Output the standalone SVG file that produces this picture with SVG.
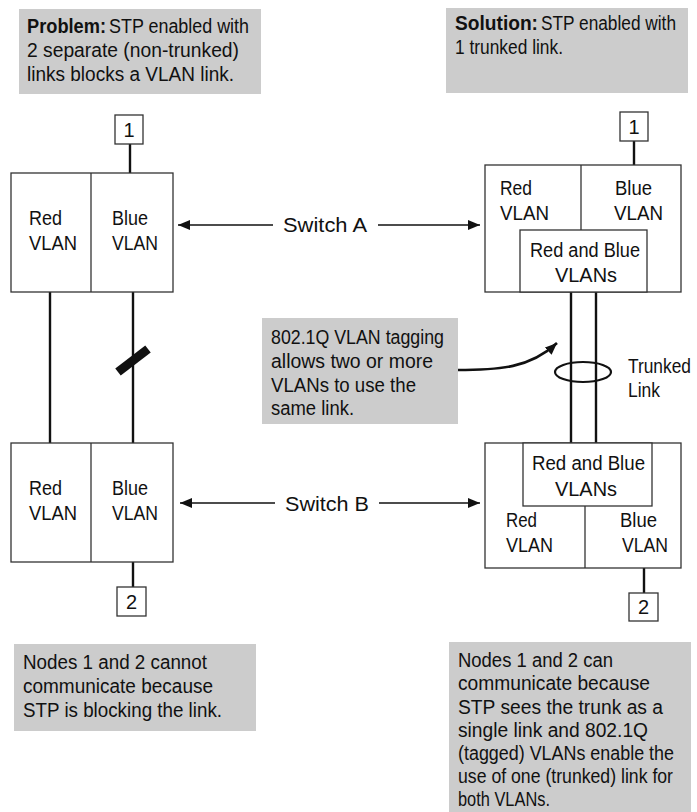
<svg xmlns="http://www.w3.org/2000/svg" width="697" height="812" viewBox="0 0 697 812">
<style>
text{font-family:"Liberation Sans",Arial,sans-serif;font-size:20px;fill:#111}
.b{font-weight:bold}
.note{fill:#cccccc}
.box{fill:#fff;stroke:#333;stroke-width:1.3}
.link{stroke:#111;stroke-width:2.4;fill:none}
.arr{stroke:#111;stroke-width:1.4;fill:none}
</style>
<defs>
<marker id="ah" viewBox="0 0 12 10" refX="12" refY="5" markerWidth="12" markerHeight="10" markerUnits="userSpaceOnUse" orient="auto">
<path d="M0,0 L12,5 L0,10 z" fill="#111"/>
</marker>
</defs>

<g id="note-problem">
<rect class="note" x="19" y="9" width="242" height="85"/>
<text class="b" x="27" y="33" textLength="79" lengthAdjust="spacingAndGlyphs">Problem:</text>
<text x="109" y="33" textLength="140" lengthAdjust="spacingAndGlyphs">STP enabled with</text>
<text x="27" y="57" textLength="212" lengthAdjust="spacingAndGlyphs">2 separate (non-trunked)</text>
<text x="27" y="81" textLength="207" lengthAdjust="spacingAndGlyphs">links blocks a VLAN link.</text>
</g>

<g id="note-solution">
<rect class="note" x="446" y="8" width="242" height="85"/>
<text class="b" x="455" y="30" textLength="83" lengthAdjust="spacingAndGlyphs">Solution:</text>
<text x="541" y="30" textLength="135" lengthAdjust="spacingAndGlyphs">STP enabled with</text>
<text x="455" y="54" textLength="108" lengthAdjust="spacingAndGlyphs">1 trunked link.</text>
</g>

<g id="connectors">
<line class="link" x1="130" y1="144" x2="130" y2="173"/>
<line class="link" x1="50" y1="292" x2="50" y2="443"/>
<line class="link" x1="133" y1="292" x2="133" y2="443"/>
<line class="link" x1="133" y1="562" x2="133" y2="587"/>
<line x1="118" y1="372" x2="148" y2="349" stroke="#111" stroke-width="9"/>
<line class="link" x1="634" y1="141" x2="634" y2="165"/>
<line class="link" x1="571" y1="292" x2="571" y2="443"/>
<line class="link" x1="596" y1="292" x2="596" y2="443"/>
<line class="link" x1="644" y1="568" x2="644" y2="593"/>
<ellipse cx="583" cy="372" rx="28" ry="10" fill="none" stroke="#111" stroke-width="2.2"/>
<line class="arr" x1="273" y1="225" x2="178" y2="225" marker-end="url(#ah)"/>
<line class="arr" x1="378" y1="225" x2="480" y2="225" marker-end="url(#ah)"/>
<line class="arr" x1="275" y1="503" x2="180" y2="503" marker-end="url(#ah)"/>
<line class="arr" x1="379" y1="503" x2="480" y2="503" marker-end="url(#ah)"/>
<path d="M457,370 C500,370 530,368 557,343" stroke="#111" stroke-width="2.6" fill="none" marker-end="url(#ah)"/>
</g>

<g id="label-switch-a">
<text x="283" y="232" textLength="84" lengthAdjust="spacingAndGlyphs">Switch A</text>
</g>
<g id="label-switch-b">
<text x="285" y="511" textLength="84" lengthAdjust="spacingAndGlyphs">Switch B</text>
</g>

<g id="node1-left">
<rect class="box" x="115" y="115" width="28" height="29"/>
<text x="129" y="137" text-anchor="middle">1</text>
</g>
<g id="switchA-left">
<rect class="box" x="11" y="173" width="162" height="119"/>
<line x1="91" y1="173" x2="91" y2="292" stroke="#333" stroke-width="1.3"/>
<text x="29" y="225" textLength="33" lengthAdjust="spacingAndGlyphs">Red</text>
<text x="29" y="250" textLength="48" lengthAdjust="spacingAndGlyphs">VLAN</text>
<text x="112" y="225" textLength="36" lengthAdjust="spacingAndGlyphs">Blue</text>
<text x="112" y="250" textLength="46" lengthAdjust="spacingAndGlyphs">VLAN</text>
</g>
<g id="switchB-left">
<rect class="box" x="11" y="443" width="162" height="119"/>
<line x1="91" y1="443" x2="91" y2="562" stroke="#333" stroke-width="1.3"/>
<text x="29" y="495" textLength="33" lengthAdjust="spacingAndGlyphs">Red</text>
<text x="29" y="520" textLength="48" lengthAdjust="spacingAndGlyphs">VLAN</text>
<text x="112" y="495" textLength="36" lengthAdjust="spacingAndGlyphs">Blue</text>
<text x="112" y="520" textLength="46" lengthAdjust="spacingAndGlyphs">VLAN</text>
</g>
<g id="node2-left">
<rect class="box" x="117" y="587" width="29" height="29"/>
<text x="131.5" y="609" text-anchor="middle">2</text>
</g>

<g id="node1-right">
<rect class="box" x="620" y="112" width="28" height="29"/>
<text x="634" y="134" text-anchor="middle">1</text>
</g>
<g id="switchA-right">
<rect class="box" x="485" y="165" width="196" height="127"/>
<line x1="581" y1="165" x2="581" y2="230" stroke="#333" stroke-width="1.3"/>
<rect class="box" x="520" y="230" width="127" height="62"/>
<text x="500" y="195" textLength="32" lengthAdjust="spacingAndGlyphs">Red</text>
<text x="500" y="220" textLength="49" lengthAdjust="spacingAndGlyphs">VLAN</text>
<text x="615" y="195" textLength="37" lengthAdjust="spacingAndGlyphs">Blue</text>
<text x="614" y="220" textLength="49" lengthAdjust="spacingAndGlyphs">VLAN</text>
<text x="530" y="257" textLength="110" lengthAdjust="spacingAndGlyphs">Red and Blue</text>
<text x="555" y="282" textLength="62" lengthAdjust="spacingAndGlyphs">VLANs</text>
</g>
<g id="label-trunked">
<text x="628" y="373" textLength="63" lengthAdjust="spacingAndGlyphs">Trunked</text>
<text x="628" y="397" textLength="32" lengthAdjust="spacingAndGlyphs">Link</text>
</g>
<g id="switchB-right">
<rect class="box" x="485" y="443" width="196" height="125"/>
<rect class="box" x="523" y="443" width="129" height="63"/>
<line x1="585" y1="506" x2="585" y2="568" stroke="#333" stroke-width="1.3"/>
<text x="532" y="470" textLength="113" lengthAdjust="spacingAndGlyphs">Red and Blue</text>
<text x="555" y="496" textLength="62" lengthAdjust="spacingAndGlyphs">VLANs</text>
<text x="506" y="527" textLength="31" lengthAdjust="spacingAndGlyphs">Red</text>
<text x="506" y="552" textLength="47" lengthAdjust="spacingAndGlyphs">VLAN</text>
<text x="620" y="527" textLength="37" lengthAdjust="spacingAndGlyphs">Blue</text>
<text x="622" y="552" textLength="46" lengthAdjust="spacingAndGlyphs">VLAN</text>
</g>
<g id="node2-right">
<rect class="box" x="629" y="593" width="29" height="28"/>
<text x="643.5" y="614" text-anchor="middle">2</text>
</g>

<g id="note-tagging">
<rect class="note" x="262" y="318" width="196" height="106"/>
<text x="271" y="344" textLength="173" lengthAdjust="spacingAndGlyphs">802.1Q VLAN tagging</text>
<text x="271" y="368" textLength="162" lengthAdjust="spacingAndGlyphs">allows two or more</text>
<text x="271" y="392" textLength="145" lengthAdjust="spacingAndGlyphs">VLANs to use the</text>
<text x="271" y="415" textLength="83" lengthAdjust="spacingAndGlyphs">same link.</text>
</g>

<g id="note-cannot">
<rect class="note" x="14" y="644" width="242" height="87"/>
<text x="23" y="669" textLength="184" lengthAdjust="spacingAndGlyphs">Nodes 1 and 2 cannot</text>
<text x="23" y="693" textLength="190" lengthAdjust="spacingAndGlyphs">communicate because</text>
<text x="23" y="717" textLength="199" lengthAdjust="spacingAndGlyphs">STP is blocking the link.</text>
</g>

<g id="note-can">
<rect class="note" x="449" y="642" width="242" height="170"/>
<text x="458" y="667" textLength="155" lengthAdjust="spacingAndGlyphs">Nodes 1 and 2 can</text>
<text x="458" y="690" textLength="192" lengthAdjust="spacingAndGlyphs">communicate because</text>
<text x="458" y="714" textLength="205" lengthAdjust="spacingAndGlyphs">STP sees the trunk as a</text>
<text x="458" y="737" textLength="190" lengthAdjust="spacingAndGlyphs">single link and 802.1Q</text>
<text x="458" y="760" textLength="216" lengthAdjust="spacingAndGlyphs">(tagged) VLANs enable the</text>
<text x="458" y="783" textLength="215" lengthAdjust="spacingAndGlyphs">use of one (trunked) link for</text>
<text x="458" y="806" textLength="92" lengthAdjust="spacingAndGlyphs">both VLANs.</text>
</g>
</svg>
